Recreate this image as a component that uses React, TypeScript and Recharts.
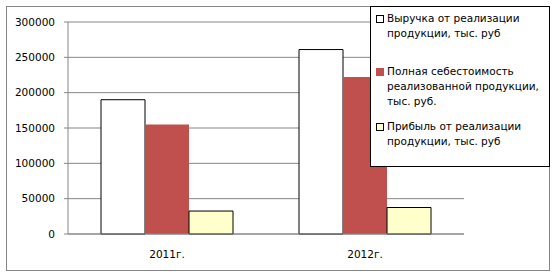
import { BarChart, Bar, XAxis, YAxis, CartesianGrid } from "recharts";

const years = ["2011г.", "2012г."];
const revenue = [190000, 261000];
const cost = [155000, 222000];
const profit = [32500, 37500];
const yTicks = [0, 50000, 100000, 150000, 200000, 250000, 300000];

const seriesNames = [
  ["Выручка от реализации", "продукции, тыс. руб"],
  ["Полная себестоимость", "реализованной продукции,", "тыс. руб."],
  ["Прибыль от реализации", "продукции, тыс. руб"],
];

const font = "'DejaVu Sans', Tahoma, sans-serif";

export default function App() {
  const data = years.map((y, i) => ({
    year: y,
    revenue: revenue[i],
    cost: cost[i],
    profit: profit[i],
  }));

  const swatches = [
    { fill: "#ffffff", stroke: "#000" },
    { fill: "#c0504d", stroke: "#c0504d" },
    { fill: "#ffffcc", stroke: "#000" },
  ];

  return (
    <div
      style={{
        position: "fixed",
        left: 0,
        top: 0,
        width: 557,
        height: 276,
        background: "#fff",
        fontFamily: font,
      }}
    >
      <div
        style={{
          position: "absolute",
          left: 6,
          top: 6,
          width: 544,
          height: 265,
          boxSizing: "border-box",
          border: "1px solid #868686",
        }}
      />
      <div style={{ position: "absolute", left: 0, top: 0 }}>
        <BarChart
          width={557}
          height={276}
          data={data}
          margin={{ top: 22, right: 93, bottom: 0, left: 0 }}
          barGap={0}
          barCategoryGap={33}
        >
          <CartesianGrid
            xAxisId="cat"
            vertical={false}
            stroke="#868686"
            strokeWidth={1}
          />
          <XAxis
            xAxisId="edge"
            type="number"
            domain={[0, 2]}
            ticks={[0, 1, 2]}
            tick={false}
            tickSize={4}
            axisLine={false}
            tickLine={{ stroke: "#868686" }}
            height={0}
          />
          <XAxis
            xAxisId="cat"
            dataKey="year"
            height={42}
            tickSize={0}
            tickMargin={17}
            axisLine={{ stroke: "#868686" }}
            tickLine={false}
            tick={{ fill: "#000", fontSize: 10.5, fontFamily: font }}
          />
          <YAxis
            width={68}
            domain={[0, 300000]}
            ticks={yTicks}
            interval={0}
            tickSize={4}
            tickMargin={9}
            axisLine={{ stroke: "#868686" }}
            tickLine={{ stroke: "#868686" }}
            tick={{ fill: "#000", fontSize: 10.5, fontFamily: font }}
          />
          <Bar
            xAxisId="cat"
            dataKey="revenue"
            fill="#ffffff"
            stroke="#000"
            strokeWidth={1}
            isAnimationActive={false}
          />
          <Bar
            xAxisId="cat"
            dataKey="cost"
            fill="#c0504d"
            isAnimationActive={false}
          />
          <Bar
            xAxisId="cat"
            dataKey="profit"
            fill="#ffffcc"
            stroke="#000"
            strokeWidth={1}
            isAnimationActive={false}
          />
        </BarChart>
      </div>
      <div
        style={{
          position: "absolute",
          left: 370,
          top: 6,
          width: 180,
          height: 161,
          boxSizing: "border-box",
          border: "1px solid #000",
          background: "#fff",
          fontSize: 10.5,
          color: "#000",
          lineHeight: "15px",
          paddingTop: 4,
        }}
      >
        {seriesNames.map((lines, i) => (
          <div
            key={i}
            style={{
              position: "relative",
              paddingLeft: 16,
              marginBottom: i === 0 ? 23 : i === 1 ? 10 : 0,
            }}
          >
            <span
              style={{
                position: "absolute",
                left: 5,
                top: 4,
                width: 8,
                height: 8,
                boxSizing: "border-box",
                background: swatches[i].fill,
                border: `1px solid ${swatches[i].stroke}`,
              }}
            />
            {lines.map((l, j) => (
              <div key={j} style={{ whiteSpace: "nowrap" }}>
                {l}
              </div>
            ))}
          </div>
        ))}
      </div>
    </div>
  );
}
